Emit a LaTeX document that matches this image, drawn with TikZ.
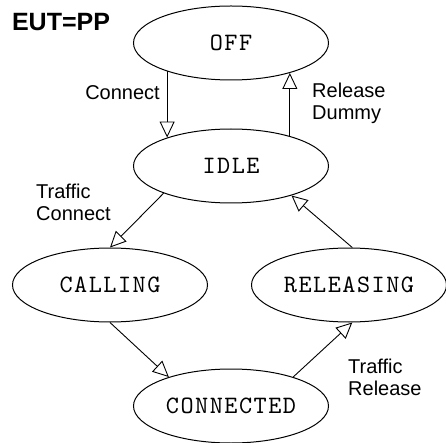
\documentclass[tikz,border=0pt]{standalone}
\usepackage{fontspec}
\setmainfont{Liberation Sans}
\newfontfamily\statefont{lmmono10-regular}[Extension=.otf, LetterSpace=6]
\usetikzlibrary{shapes.geometric,arrows.meta}

\begin{document}
\begin{tikzpicture}[x=1pt, y=-1pt,
    state/.style={draw, ellipse, line width=1pt, minimum width=195pt, minimum height=74pt,
      inner sep=0pt, font=\statefont\fontsize{25}{25}\selectfont},
    trans/.style={line width=0.9pt, -{Triangle[open, length=16pt, width=15pt, line width=0.9pt]}},
    lbl/.style={font=\fontsize{20}{22}\selectfont, align=left, inner sep=0pt}]
  \useasboundingbox (0,0) rectangle (446,443);

  % States
  \node[font=\fontsize{25}{25}\selectfont\bfseries, inner sep=0pt] (eut) at (61,22) {EUT=PP};
  \node[state] (off) at (231,43) {OFF};
  \node[state] (idle) at (231,166) {IDLE};
  \node[state] (calling) at (110,285) {CALLING};
  \node[state] (releasing) at (349,285) {RELEASING};
  \node[state] (connected) at (231,406) {CONNECTED};

  % Transitions
  \draw[trans] (off.204) -- (idle.156);
  \node[lbl, anchor=east] (lconnect) at (160,93) {Connect};
  \draw[trans] (idle.27) -- (off.-27);
  \node[lbl, anchor=west] (lrelease) at (312,103) {Release\\Dummy};
  \draw[trans] (idle.202) -- (calling.90);
  \node[lbl, anchor=west] (ltconnect) at (36,202) {Traffic\\Connect};
  \draw[trans] (releasing.85) -- (idle.334);
  \draw[trans] (calling.270) -- (connected.155);
  \draw[trans] (connected.25) -- (releasing.275);
  \node[lbl, anchor=west] (ltrelease) at (348,377) {Traffic\\Release};
\end{tikzpicture}
\end{document}
